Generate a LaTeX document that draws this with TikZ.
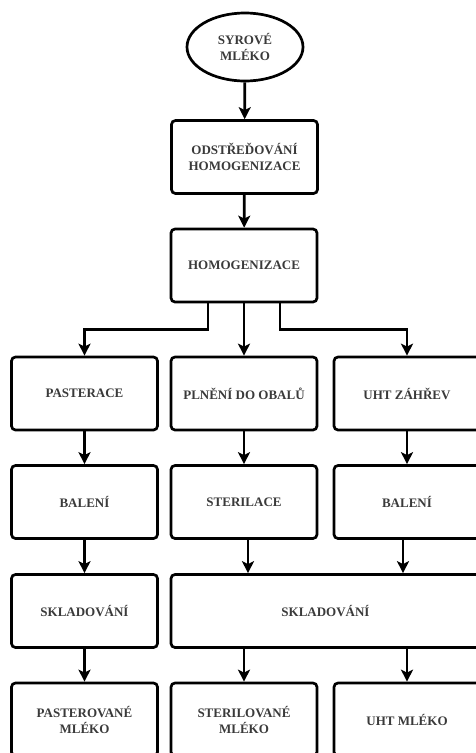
\documentclass[tikz,border=0pt]{standalone}
\usepackage{fontspec}
\setmainfont{Liberation Serif}
\usetikzlibrary{arrows.meta, calc, shapes.geometric}
\definecolor{txtgray}{HTML}{3A3A3A}

\begin{document}
\begin{tikzpicture}[x=1pt, y=1pt, >={Stealth[length=12pt, width=12pt, inset=3pt]}, line width=2.7pt]
	\tikzstyle{box} = [draw=black, rounded corners=4pt, minimum width=146pt, minimum height=73pt, inner sep=2pt, align=center, text=txtgray, font=\fontsize{13}{16}\selectfont\bfseries]
	\tikzstyle{oval} = [draw=black, ellipse, minimum width=116pt, minimum height=68pt, inner sep=0pt, align=center, text=txtgray, font=\fontsize{13}{16}\selectfont\bfseries]
	
	\useasboundingbox (0, 0) rectangle (475, -753);
	
	\node[oval] 	at (245, -47) 		(milk) 	{SYROVÉ\\MLÉKO};
	\node[box] 	at (244.5, -157)	(odstr) 	{ODSTŘEĎOVÁNÍ\\HOMOGENIZACE};
	\node[box] 	at (244, -265.5)	(homog) 	{HOMOGENIZACE};
	
	\node[box] 	at (84.5, -393.5)	(past) 	{PASTERACE};
	\node[box] 	at (244, -393.5)	(plneni) 	{PLNĚNÍ DO OBALŮ};
	\node[box] 	at (407, -393.5)	(uht) 	{UHT ZÁHŘEV};
	
	\node[box] 	at (84.5, -502)	(bal1) 	{BALENÍ};
	\node[box] 	at (244, -502)	(steril) 	{STERILACE};
	\node[box] 	at (407, -502)	(bal2) 	{BALENÍ};
	
	\node[box] 	at (84.5, -611)	(skl1) 	{SKLADOVÁNÍ};
	\node[box, minimum width=309pt] 	at (325.5, -611)	(skl2) 	{SKLADOVÁNÍ};
	
	\node[box] 	at (84.5, -719.5)	(pastmilk) 	{PASTEROVANÉ\\MLÉKO};
	\node[box] 	at (244, -719.5)	(stermilk) 	{STERILOVANÉ\\MLÉKO};
	\node[box] 	at (407, -719.5)	(uhtmilk) 	{UHT MLÉKO};
	
	\coordinate (midin) at (248, 0);
	\coordinate (rightin) at (403, 0);
	
	\path[->]
	(milk)	edge	(odstr)
	(odstr)	edge	(homog)
	(homog)	edge	(plneni)
	(past)	edge	(bal1)
	(plneni)	edge	(steril)
	(uht)	edge	(bal2)
	(bal1)	edge	(skl1)
	(skl1)	edge	(pastmilk)
	(steril.south -| midin)	edge	(skl2.north -| midin)
	(bal2.south -| rightin)	edge	(skl2.north -| rightin)
	(skl2.south -| stermilk)	edge	(stermilk)
	(skl2.south -| uhtmilk)	edge	(uhtmilk);
	
	\draw[->] ($(homog.south)+(-36, 0)$) -- ++(0, -26) -| (past.north);
	\draw[->] ($(homog.south)+(36, 0)$) -- ++(0, -26) -| (uht.north);
\end{tikzpicture}
\end{document}
